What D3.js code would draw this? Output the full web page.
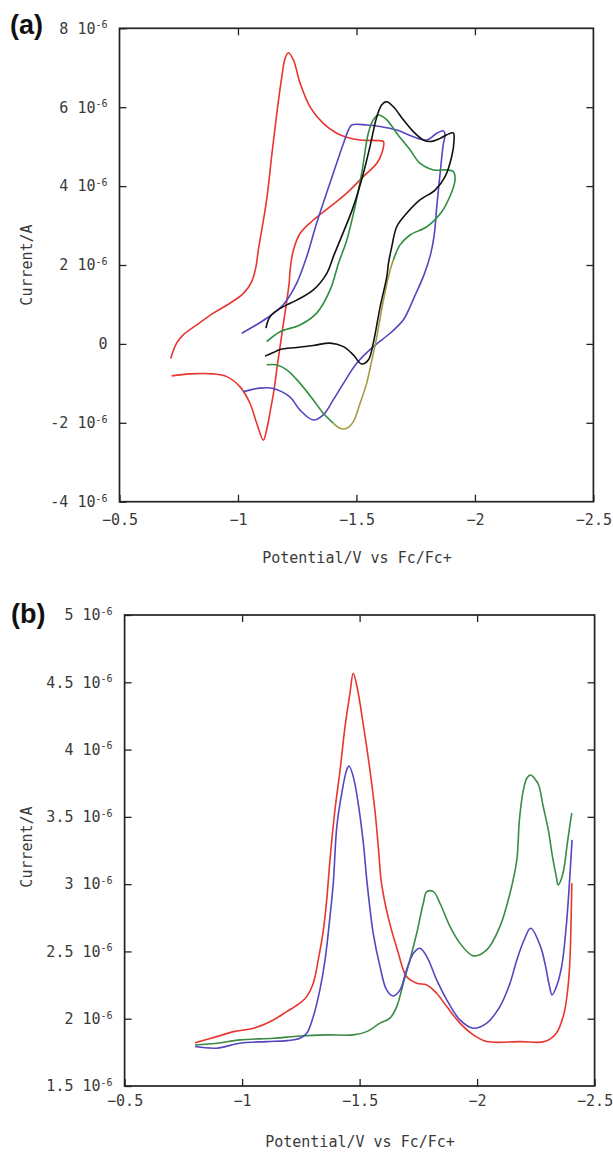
<!DOCTYPE html>
<html>
<head>
<meta charset="utf-8">
<script src="https://cdn.jsdelivr.net/npm/d3@7"></script>
<style>
  body { margin: 0; background: #fff; }
  svg text { font-family: "DejaVu Sans Mono", monospace; fill: #3a3a3a; }
</style>
</head>
<body>
<svg id="chart" width="613" height="1153"></svg>
<script>
// tick values (potential in V, current in units of 10^-6 A)
const potentialTicks = [-0.5, -1, -1.5, -2, -2.5]
const cvCurrentTicks = [8, 6, 4, 2, 0, -2, -4]
const dpvCurrentTicks = [5, 4.5, 4, 3.5, 3, 2.5, 2, 1.5]

// (a) cyclic voltammograms, [potential, current]
const cvRed = [[-0.716,-0.37],[-0.741,0.02],[-0.769,0.23],[-0.826,0.48],[-0.896,0.78],[-0.966,1.03],[-1.023,1.28],[-1.058,1.58],[-1.076,1.96],[-1.086,2.38],[-1.121,3.65],[-1.142,4.75],[-1.164,5.85],[-1.185,6.77],[-1.199,7.24],[-1.213,7.38],[-1.234,7.20],[-1.262,6.61],[-1.304,6.01],[-1.360,5.59],[-1.417,5.34],[-1.459,5.24],[-1.515,5.17],[-1.600,5.15],[-1.614,5.13],[-1.607,4.83],[-1.586,4.58],[-1.529,4.24],[-1.459,3.82],[-1.389,3.48],[-1.318,3.14],[-1.262,2.80],[-1.234,2.38],[-1.220,1.87],[-1.216,1.54],[-1.186,0.28],[-1.165,-0.59],[-1.152,-1.17],[-1.137,-1.68],[-1.121,-2.18],[-1.107,-2.44],[-1.079,-2.01],[-1.051,-1.51],[-1.009,-1.09],[-0.953,-0.83],[-0.896,-0.76],[-0.798,-0.76],[-0.720,-0.81]]
const cvBlue = [[-1.016,0.27],[-1.121,0.65],[-1.191,0.99],[-1.248,1.54],[-1.290,2.21],[-1.332,3.06],[-1.402,4.32],[-1.445,5.08],[-1.466,5.42],[-1.480,5.55],[-1.543,5.55],[-1.600,5.51],[-1.670,5.42],[-1.740,5.25],[-1.797,5.17],[-1.839,5.34],[-1.867,5.40],[-1.874,5.30],[-1.867,5.08],[-1.853,4.32],[-1.839,3.48],[-1.828,2.75],[-1.812,2.25],[-1.785,1.75],[-1.745,1.20],[-1.698,0.61],[-1.642,0.27],[-1.571,-0.07],[-1.501,-0.49],[-1.445,-1.00],[-1.402,-1.42],[-1.360,-1.80],[-1.318,-1.93],[-1.262,-1.68],[-1.220,-1.35],[-1.149,-1.13],[-1.093,-1.12],[-1.023,-1.21]]
const cvGreenUpper = [[-1.121,0.06],[-1.178,0.31],[-1.262,0.48],[-1.332,0.78],[-1.389,1.37],[-1.424,2.04],[-1.459,2.63],[-1.494,3.48],[-1.522,4.32],[-1.550,5.34],[-1.571,5.68],[-1.592,5.80],[-1.628,5.68],[-1.670,5.34],[-1.726,4.92],[-1.768,4.58],[-1.825,4.41],[-1.881,4.41],[-1.909,4.37],[-1.916,4.15],[-1.902,3.85],[-1.860,3.35],[-1.797,2.97],[-1.726,2.76],[-1.684,2.51],[-1.656,2.13]]
const cvOlive = [[-1.656,2.13],[-1.642,1.87],[-1.614,1.11],[-1.586,0.18],[-1.565,-0.41],[-1.543,-1.00],[-1.515,-1.51],[-1.487,-1.97],[-1.459,-2.14],[-1.431,-2.14],[-1.402,-2.01]]
const cvGreenLower = [[-1.402,-2.01],[-1.360,-1.76],[-1.318,-1.42],[-1.262,-1.00],[-1.206,-0.66],[-1.161,-0.53],[-1.121,-0.53]]
const cvBlack = [[-1.118,0.40],[-1.135,0.69],[-1.178,0.90],[-1.248,1.11],[-1.318,1.37],[-1.375,1.79],[-1.405,2.25],[-1.431,2.63],[-1.487,3.48],[-1.529,4.32],[-1.557,5.00],[-1.586,5.76],[-1.607,6.06],[-1.628,6.14],[-1.656,6.01],[-1.698,5.68],[-1.740,5.38],[-1.782,5.17],[-1.811,5.13],[-1.853,5.21],[-1.881,5.30],[-1.909,5.35],[-1.912,5.17],[-1.902,4.75],[-1.874,4.24],[-1.832,3.90],[-1.768,3.65],[-1.712,3.31],[-1.670,2.97],[-1.649,2.46],[-1.636,2.08],[-1.628,1.70],[-1.600,0.94],[-1.571,0.02],[-1.550,-0.41],[-1.522,-0.51],[-1.487,-0.28],[-1.445,-0.07],[-1.389,0.02],[-1.318,-0.04],[-1.248,-0.09],[-1.178,-0.14],[-1.149,-0.22],[-1.114,-0.31]]

// (b) differential pulse voltammograms, [potential, current]
const dpvRed = [[-0.800,1.822],[-0.892,1.867],[-0.963,1.904],[-1.048,1.929],[-1.133,1.991],[-1.190,2.053],[-1.246,2.115],[-1.275,2.164],[-1.303,2.264],[-1.324,2.437],[-1.346,2.660],[-1.360,2.883],[-1.374,3.180],[-1.395,3.551],[-1.417,3.848],[-1.438,4.170],[-1.459,4.418],[-1.473,4.567],[-1.489,4.467],[-1.517,4.170],[-1.544,3.848],[-1.565,3.551],[-1.580,3.269],[-1.593,3.009],[-1.621,2.759],[-1.661,2.511],[-1.700,2.313],[-1.743,2.264],[-1.786,2.251],[-1.828,2.189],[-1.871,2.090],[-1.927,1.967],[-1.984,1.880],[-2.041,1.830],[-2.183,1.830],[-2.287,1.830],[-2.337,1.892],[-2.370,2.041],[-2.387,2.239],[-2.395,2.437],[-2.403,3.007]]
const dpvBlue = [[-0.800,1.793],[-0.892,1.781],[-0.991,1.818],[-1.105,1.830],[-1.190,1.837],[-1.246,1.855],[-1.275,1.892],[-1.303,2.016],[-1.331,2.214],[-1.353,2.437],[-1.374,2.759],[-1.388,3.007],[-1.403,3.427],[-1.424,3.675],[-1.445,3.848],[-1.455,3.878],[-1.473,3.799],[-1.494,3.601],[-1.516,3.304],[-1.532,3.007],[-1.558,2.635],[-1.587,2.387],[-1.615,2.214],[-1.643,2.169],[-1.672,2.214],[-1.700,2.363],[-1.729,2.487],[-1.757,2.524],[-1.786,2.461],[-1.828,2.288],[-1.871,2.140],[-1.927,1.991],[-1.984,1.929],[-2.041,1.967],[-2.097,2.090],[-2.140,2.264],[-2.169,2.437],[-2.200,2.585],[-2.228,2.672],[-2.270,2.536],[-2.290,2.400],[-2.307,2.250],[-2.319,2.177],[-2.340,2.250],[-2.361,2.400],[-2.378,2.660],[-2.391,2.957],[-2.404,3.328]]
const dpvGreen = [[-0.800,1.805],[-0.892,1.818],[-0.991,1.843],[-1.133,1.855],[-1.246,1.872],[-1.360,1.880],[-1.473,1.880],[-1.530,1.904],[-1.587,1.967],[-1.629,2.004],[-1.658,2.090],[-1.686,2.264],[-1.714,2.437],[-1.743,2.635],[-1.771,2.858],[-1.786,2.944],[-1.814,2.944],[-1.842,2.858],[-1.885,2.684],[-1.927,2.561],[-1.984,2.467],[-2.041,2.511],[-2.097,2.684],[-2.140,2.932],[-2.169,3.180],[-2.180,3.477],[-2.197,3.700],[-2.212,3.789],[-2.228,3.811],[-2.246,3.782],[-2.262,3.737],[-2.280,3.588],[-2.303,3.403],[-2.321,3.202],[-2.337,3.056],[-2.345,2.994],[-2.357,3.031],[-2.370,3.120],[-2.383,3.291],[-2.395,3.440],[-2.403,3.527]]

const svg = d3.select('#chart')

const formatPotential = d => String(d).replace('-', '\u2212')

function drawPanel(p) {
  const x = d3.scaleLinear().domain([-0.5, -2.5]).range([p.left, p.right])
  const y = d3.scaleLinear().domain(p.yDomain).range([p.bottom, p.top])
  const g = svg.append('g')

  const line = d3.line()
    .x(d => x(d[0]))
    .y(d => y(d[1]))
    .curve(d3.curveCatmullRom.alpha(0.5))

  p.series.forEach(s => {
    g.append('path')
      .attr('d', line(s.data))
      .attr('fill', 'none')
      .attr('stroke', s.color)
      .attr('stroke-width', 1.6)
      .attr('stroke-linejoin', 'round')
  })

  const bottomAxis = g.append('g')
    .attr('transform', `translate(0,${p.bottom})`)
    .call(d3.axisBottom(x).tickValues(potentialTicks).tickSize(-7).tickPadding(p.xPad).tickFormat(formatPotential))
  const topAxis = g.append('g')
    .attr('transform', `translate(0,${p.top})`)
    .call(d3.axisTop(x).tickValues(potentialTicks.slice(1, -1)).tickSize(-7).tickFormat(''))
  const leftAxis = g.append('g')
    .attr('transform', `translate(${p.left},0)`)
    .call(d3.axisLeft(y).tickValues(p.yTicks).tickSize(-7).tickPadding(12))
  const rightAxis = g.append('g')
    .attr('transform', `translate(${p.right},0)`)
    .call(d3.axisRight(y).tickValues(p.yTicks.slice(1, -1)).tickSize(-7).tickFormat(''))

  ;[bottomAxis, topAxis, leftAxis, rightAxis].forEach(a => {
    a.select('.domain').remove()
    a.selectAll('.tick line').attr('stroke', '#222').attr('stroke-width', 1.3)
    a.selectAll('text').attr('font-size', 15).attr('fill', '#3a3a3a')
      .attr('font-family', '"DejaVu Sans Mono", monospace')
  })

  // y tick labels like "4 10^-6"
  leftAxis.selectAll('.tick text').each(function(d) {
    const t = d3.select(this).text('')
    if (d === 0) { t.text('0'); return }
    t.append('tspan').text(`${d} 10`)
    t.append('tspan').attr('dy', '-0.55em').attr('font-size', 10).text('-6')
  })

  g.append('rect')
    .attr('x', p.left)
    .attr('y', p.top)
    .attr('width', p.right - p.left)
    .attr('height', p.bottom - p.top)
    .attr('fill', 'none')
    .attr('stroke', '#222')
    .attr('stroke-width', 1.7)

  g.append('text')
    .attr('transform', `translate(${p.yLabelX},${p.yLabelY}) rotate(-90)`)
    .attr('text-anchor', 'middle')
    .attr('dy', '0.35em')
    .attr('font-size', 15)
    .text('Current/A')

  g.append('text')
    .attr('x', p.xLabelX)
    .attr('y', p.xLabelY)
    .attr('text-anchor', 'middle')
    .attr('dy', '0.35em')
    .attr('font-size', 15)
    .text('Potential/V vs Fc/Fc+')

  g.append('text')
    .attr('x', p.tagX)
    .attr('y', p.tagY)
    .attr('font-weight', 'bold')
    .attr('font-size', 27)
    .style('font-family', '"Liberation Sans", Arial, sans-serif')
    .style('fill', '#111')
    .text(p.tag)
}

drawPanel({
  tag: '(a)', tagX: 10, tagY: 34,
  left: 119.5, right: 593.4, top: 28.3, bottom: 501.7,
  yDomain: [-4, 8], yTicks: cvCurrentTicks, xPad: 13,
  yLabelX: 27, yLabelY: 265, xLabelX: 357, xLabelY: 558,
  series: [
    { data: cvRed, color: '#e8352f' },
    { data: cvBlue, color: '#5446c0' },
    { data: cvGreenUpper, color: '#2f8f3f' },
    { data: cvGreenLower, color: '#2f8f3f' },
    { data: cvOlive, color: '#a39c45' },
    { data: cvBlack, color: '#111111' },
  ],
})

drawPanel({
  tag: '(b)', tagX: 11, tagY: 623,
  left: 124.6, right: 594.6, top: 615, bottom: 1086,
  yDomain: [1.5, 5], yTicks: dpvCurrentTicks, xPad: 9,
  yLabelX: 27, yLabelY: 847, xLabelX: 360, xLabelY: 1142,
  series: [
    { data: dpvRed, color: '#e8352f' },
    { data: dpvGreen, color: '#3b8a45' },
    { data: dpvBlue, color: '#5446c0' },
  ],
})
</script>
</body>
</html>
